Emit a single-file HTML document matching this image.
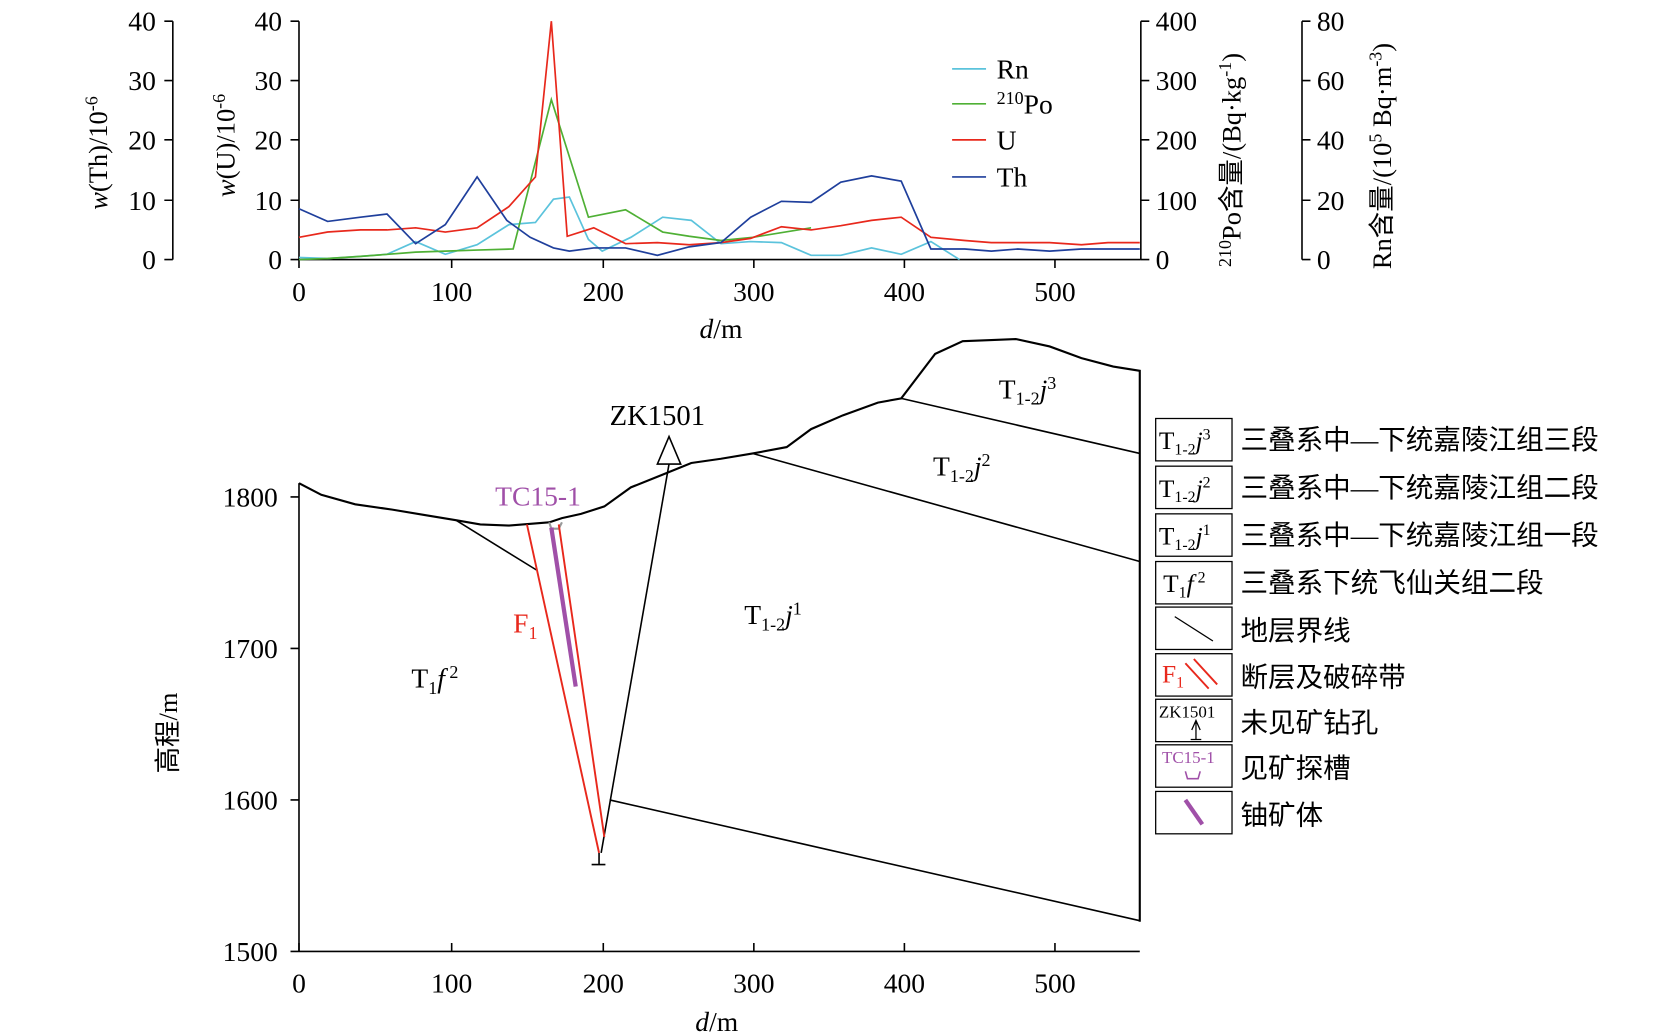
<!DOCTYPE html>
<html><head><meta charset="utf-8"><style>
html,body{margin:0;padding:0;background:#fff}
svg{display:block}
text{font-family:"Liberation Serif","Noto Serif CJK SC",serif;fill:#000}
.cn{font-family:"Liberation Serif","Noto Sans CJK SC",sans-serif}
</style></head><body>
<svg width="1654" height="1033" viewBox="0 0 1560 975" preserveAspectRatio="none" xmlns="http://www.w3.org/2000/svg">
<g stroke="#000" stroke-width="1.5" fill="none">
<line x1="163" y1="20" x2="163" y2="245"/>
<line x1="282" y1="20" x2="282" y2="245"/>
<line x1="282" y1="245" x2="1076" y2="245"/>
<line x1="1076" y1="20" x2="1076" y2="245"/>
<line x1="1228" y1="20" x2="1228" y2="245"/>
<path d="M155 20H163M155 76H163M155 132H163M155 189H163M155 245H163"/>
<path d="M274 20H282M274 76H282M274 132H282M274 189H282M274 245H282"/>
<path d="M1076 20H1084M1076 76H1084M1076 132H1084M1076 189H1084M1076 245H1084"/>
<path d="M1228 20H1236M1228 76H1236M1228 132H1236M1228 189H1236M1228 245H1236"/>
<path d="M282 245V253M426 245V253M569 245V253M711 245V253M853 245V253M995 245V253"/>
</g>
<g font-size="26" text-anchor="end">
<text x="147" y="29">40</text><text x="147" y="85">30</text><text x="147" y="141">20</text><text x="147" y="198">10</text><text x="147" y="254">0</text>
<text x="266" y="29">40</text><text x="266" y="85">30</text><text x="266" y="141">20</text><text x="266" y="198">10</text><text x="266" y="254">0</text>
</g>
<g font-size="26">
<text x="1090" y="29">400</text><text x="1090" y="85">300</text><text x="1090" y="141">200</text><text x="1090" y="198">100</text><text x="1090" y="254">0</text>
<text x="1242" y="29">80</text><text x="1242" y="85">60</text><text x="1242" y="141">40</text><text x="1242" y="198">20</text><text x="1242" y="254">0</text>
</g>
<g font-size="26" text-anchor="middle">
<text x="282" y="284">0</text><text x="426" y="284">100</text><text x="569" y="284">200</text><text x="711" y="284">300</text><text x="853" y="284">400</text><text x="995" y="284">500</text>
<text x="680" y="319"><tspan font-style="italic">d</tspan>/m</text>
</g>
<text font-size="25" transform="translate(101,198) rotate(-90)"><tspan font-style="italic">w</tspan>(Th)/10<tspan font-size="17" dy="-9">-6</tspan></text>
<text font-size="25" transform="translate(221,186) rotate(-90)"><tspan font-style="italic">w</tspan>(U)/10<tspan font-size="17" dy="-9">-6</tspan></text>
<text class="cn" font-size="25" transform="translate(1170,252) rotate(-90)"><tspan font-size="17" dy="-9">210</tspan><tspan dy="9">Po含量/(Bq·kg</tspan><tspan font-size="17" dy="-9">-1</tspan><tspan dy="9">)</tspan></text>
<text class="cn" font-size="25" transform="translate(1312,254) rotate(-90)">Rn含量/(10<tspan font-size="17" dy="-9">5</tspan><tspan dy="9"> Bq·m</tspan><tspan font-size="17" dy="-9">-3</tspan><tspan dy="9">)</tspan></text>
<g fill="none" stroke-width="1.6">
<polyline stroke="#5bc3dc" points="282,243 309,244 340,242 365,240 392,228 420,240 450,231 480,212 505,210 522,188 537,186 555,226 568,237 595,224 625,205 652,208 680,230 708,228 737,229 765,241 793,241 822,234 850,240 878,228 905,245"/>
<polyline stroke="#4fb035" points="282,245 309,244 340,242 392,238 420,237 450,236 484,235 520,94 555,205 590,198 625,219 650,223 680,227 710,224 765,215"/>
<polyline stroke="#e8281c" points="282,224 309,219 340,217 365,217 392,215 420,219 450,215 480,195 505,167 520,20 535,223 560,215 590,230 620,229 650,231 680,229 708,225 737,214 765,217 793,213 822,208 850,205 878,224 910,227 935,229 990,229 1020,231 1045,229 1075,229"/>
<polyline stroke="#1f3f9c" points="282,197 309,209 340,205 365,202 392,230 420,212 450,167 478,208 500,224 522,234 537,237 560,234 590,234 620,241 650,233 680,229 708,205 737,190 765,191 793,172 822,166 850,171 878,235 910,235 935,237 960,235 990,237 1020,235 1075,235"/>
</g>
<g stroke-width="1.6">
<line x1="898" y1="65" x2="930" y2="65" stroke="#5bc3dc"/>
<line x1="898" y1="98" x2="930" y2="98" stroke="#4fb035"/>
<line x1="898" y1="132" x2="930" y2="132" stroke="#e8281c"/>
<line x1="898" y1="167" x2="930" y2="167" stroke="#1f3f9c"/>
</g>
<g font-size="26">
<text x="940" y="74">Rn</text>
<text x="940" y="107"><tspan font-size="17" dy="-9">210</tspan><tspan dy="9">Po</tspan></text>
<text x="940" y="141">U</text>
<text x="940" y="176">Th</text>
</g>
<g stroke="#000" stroke-width="1.5" fill="none">
<line x1="282" y1="456" x2="282" y2="898"/>
<line x1="282" y1="898" x2="1075" y2="898"/>
<path d="M274 469H282M274 612H282M274 755H282M274 898H282"/>
<path d="M282 898V890M426 898V890M569 898V890M711 898V890M853 898V890M995 898V890"/>
<polyline stroke-width="2" points="282,456 303,467 335,476 370,481 400,486 430,491 453,495 480,496 518,493 530,489 548,485 570,478 595,460 625,448 652,437 680,433 710,428 742,422 765,405 795,392 828,380 850,376 882,334 908,322 935,321 958,320 990,327 1020,338 1050,346 1075,350 1075,870"/>
<line x1="430" y1="491" x2="506" y2="538"/>
<line x1="710" y1="428" x2="1075" y2="530"/>
<line x1="850" y1="376" x2="1075" y2="428"/>
<line x1="631" y1="438" x2="567" y2="805"/>
<line x1="575" y1="755" x2="1075" y2="869"/>
<path d="M631 412L620 438H642Z"/>
<path d="M558 816H571M565 805V816"/>
</g>
<path d="M518 493L520 499H527L530 493" stroke="#999" stroke-width="2" fill="none"/>
<g stroke="#e8281c" stroke-width="1.8" fill="none">
<line x1="497" y1="495" x2="565" y2="805"/>
<line x1="527" y1="495" x2="570" y2="790"/>
</g>
<line x1="520" y1="498" x2="543" y2="648" stroke="#a050a8" stroke-width="4"/>
<g font-size="26" text-anchor="end">
<text x="262" y="478">1800</text><text x="262" y="621">1700</text><text x="262" y="764">1600</text><text x="262" y="907">1500</text>
</g>
<g font-size="26" text-anchor="middle">
<text x="282" y="937">0</text><text x="426" y="937">100</text><text x="569" y="937">200</text><text x="711" y="937">300</text><text x="853" y="937">400</text><text x="995" y="937">500</text>
<text x="676" y="973"><tspan font-style="italic">d</tspan>/m</text>
</g>
<text class="cn" font-size="25" transform="translate(167,730) rotate(-90)">高程/m</text>
<text x="575" y="401" font-size="27">ZK1501</text>
<text x="467" y="477" font-size="26" style="fill:#a050a8">TC15-1</text>
<text x="484" y="597" font-size="26" style="fill:#e8281c">F<tspan font-size="17" dy="6">1</tspan></text>
<g font-size="26">
<text x="388" y="649">T<tspan font-size="17" dy="6">1</tspan><tspan dy="-6" font-style="italic">f</tspan><tspan font-size="17" dy="-9"> 2</tspan></text>
<text x="702" y="589">T<tspan font-size="17" dy="6">1-2</tspan><tspan dy="-6" font-style="italic">j</tspan><tspan font-size="17" dy="-9">1</tspan></text>
<text x="880" y="449">T<tspan font-size="17" dy="6">1-2</tspan><tspan dy="-6" font-style="italic">j</tspan><tspan font-size="17" dy="-9">2</tspan></text>
<text x="942" y="376">T<tspan font-size="17" dy="6">1-2</tspan><tspan dy="-6" font-style="italic">j</tspan><tspan font-size="17" dy="-9">3</tspan></text>
</g>
<g stroke="#000" stroke-width="1.2" fill="none">
<rect x="1090" y="395" width="72" height="40"/>
<rect x="1090" y="440" width="72" height="40"/>
<rect x="1090" y="485" width="72" height="40"/>
<rect x="1090" y="530" width="72" height="40"/>
<rect x="1090" y="573" width="72" height="40"/>
<rect x="1090" y="617" width="72" height="40"/>
<rect x="1090" y="660" width="72" height="40"/>
<rect x="1090" y="703" width="72" height="40"/>
<rect x="1090" y="747" width="72" height="40"/>
<line x1="1108" y1="582" x2="1144" y2="605"/>
<path d="M1124 689L1128 680L1132 689M1128 680V698M1123 698H1133"/>
</g>
<g stroke="#e8281c" stroke-width="1.8"><line x1="1118" y1="626" x2="1140" y2="650"/><line x1="1126" y1="622" x2="1148" y2="646"/></g>
<path d="M1118 728L1120 735H1130L1132 728" stroke="#a050a8" stroke-width="1.5" fill="none"/>
<line x1="1118" y1="755" x2="1134" y2="778" stroke="#a050a8" stroke-width="4"/>
<g font-size="24">
<text x="1093" y="424">T<tspan font-size="15" dy="5">1-2</tspan><tspan dy="-5" font-style="italic">j</tspan><tspan font-size="15" dy="-9">3</tspan></text>
<text x="1093" y="469">T<tspan font-size="15" dy="5">1-2</tspan><tspan dy="-5" font-style="italic">j</tspan><tspan font-size="15" dy="-9">2</tspan></text>
<text x="1093" y="514">T<tspan font-size="15" dy="5">1-2</tspan><tspan dy="-5" font-style="italic">j</tspan><tspan font-size="15" dy="-9">1</tspan></text>
<text x="1097" y="559">T<tspan font-size="15" dy="5">1</tspan><tspan dy="-5" font-style="italic">f</tspan><tspan font-size="15" dy="-9"> 2</tspan></text>
<text x="1096" y="644" style="fill:#e8281c">F<tspan font-size="15" dy="5">1</tspan></text>
</g>
<text x="1093" y="677" font-size="16">ZK1501</text>
<text x="1096" y="720" font-size="16" style="fill:#a050a8">TC15-1</text>
<g font-size="26">
<text class="cn" x="1170" y="424">三叠系中—下统嘉陵江组三段</text>
<text class="cn" x="1170" y="469">三叠系中—下统嘉陵江组二段</text>
<text class="cn" x="1170" y="514">三叠系中—下统嘉陵江组一段</text>
<text class="cn" x="1170" y="559">三叠系下统飞仙关组二段</text>
<text class="cn" x="1170" y="604">地层界线</text>
<text class="cn" x="1170" y="648">断层及破碎带</text>
<text class="cn" x="1170" y="691">未见矿钻孔</text>
<text class="cn" x="1170" y="734">见矿探槽</text>
<text class="cn" x="1170" y="778">铀矿体</text>
</g>
</svg>
</body></html>
